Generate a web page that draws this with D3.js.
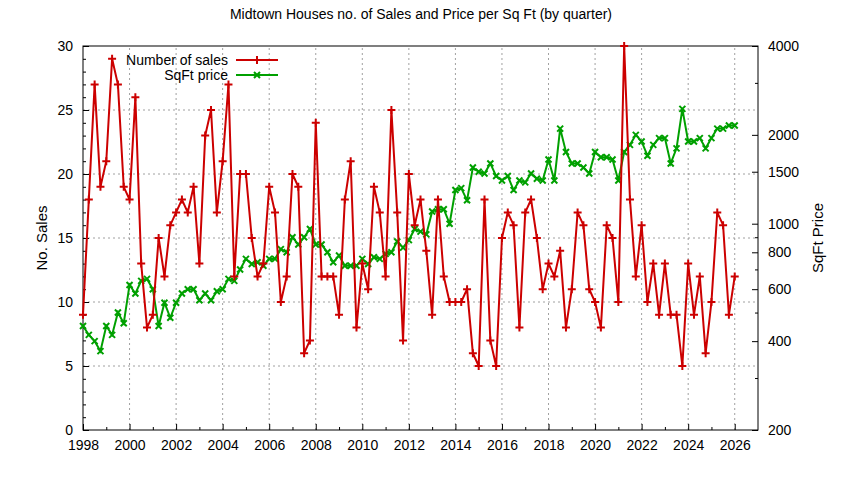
<!DOCTYPE html>
<html><head><meta charset="utf-8">
<script src="https://cdn.jsdelivr.net/npm/d3@7"></script>
<style>body{margin:0;background:#fff}text{font-family:"Liberation Sans",Arial,sans-serif}</style>
</head><body>
<script>
// quarterly data, 1998 Q1 .. 2026 Q1
let sales = [9,18,27,19,21,29,27,19,18,26,
  13,8,9,15,12,16,17,18,17,19,
  13,23,25,17,21,27,12,20,20,15,
  12,13,19,17,10,12,20,19,6,7,
  24,12,12,12,9,18,21,8,13,11,19,
  17,12,25,17,7,20,16,18,14,9,
  18,12,10,10,10,11,6,5,18,7,
  5,15,17,16,8,17,18,15,11,13,
  12,14,8,11,17,16,11,10,8,16,
  15,10,30,18,12,16,10,13,9,13,
  9,9,5,13,9,12,6,10,17,16,9,12];
let price = [450,420,400,370,450,420,500,460,620,580,
  640,650,600,450,540,480,540,580,600,600,
  550,580,550,590,600,650,640,700,760,730,
  740,720,760,760,820,800,900,850,900,960,
  850,850,800,740,780,720,720,720,760,730,
  770,760,790,800,870,830,880,960,940,920,
  1100,1120,1120,1000,1300,1320,1200,1550,1500,1480,
  1600,1450,1400,1450,1300,1400,1380,1480,1420,1400,1650,1400,
  2100,1750,1600,1600,1550,1480,1750,1680,1680,1650,
  1400,1750,1850,2000,1900,1700,1850,1950,1950,1600,
  1800,2450,1900,1900,1950,1800,1950,2100,2100,2150,2150];
let xTicks = d3.range(1998, 2027, 2);
let leftTicks = [0,5,10,15,20,25,30];
let rightTicks = [200,400,600,800,1000,1500,2000,4000];

let W = 844, H = 480;
let margin = {top: 46, right: 86, bottom: 50, left: 83};
let svg = d3.select("body").append("svg").attr("width", W).attr("height", H);
let x = d3.scaleLinear().domain([1998, 2027]).range([margin.left, W - margin.right]);
let y = d3.scaleLinear().domain([0, 30]).range([H - margin.bottom, margin.top]);
let y2 = d3.scaleLog().domain([200, 4000]).range([H - margin.bottom, margin.top]);
let t = i => 1998 + i * 0.25;

// grid
let grid = svg.append("g").attr("stroke", "#a0a0a0").attr("stroke-dasharray", "2,3").attr("stroke-width", 1);
grid.selectAll(".gx").data(xTicks.slice(1)).join("line")
  .attr("x1", d => x(d)).attr("x2", d => x(d)).attr("y1", y(0)).attr("y2", y(30));
grid.selectAll(".gy").data(leftTicks.slice(1, -1)).join("line")
  .attr("x1", x(1998)).attr("x2", x(2027)).attr("y1", d => y(d)).attr("y2", d => y(d));

// axes
let fs = "14px";
let ax = svg.append("g").attr("transform", `translate(0,${y(0)})`)
  .call(d3.axisBottom(x).tickValues(xTicks).tickFormat(d3.format("d")).tickSizeInner(-6).tickSizeOuter(0).tickPadding(10));
ax.append("g").call(d3.axisTop(x).tickValues(d3.range(1999, 2027, 2)).tickFormat("").tickSizeInner(3).tickSizeOuter(0));
let al = svg.append("g").attr("transform", `translate(${x(1998)},0)`)
  .call(d3.axisLeft(y).tickValues(leftTicks).tickSizeInner(-6).tickSizeOuter(0).tickPadding(10));
svg.append("g").attr("transform", `translate(${x(1998)},0)`)
  .call(d3.axisRight(y).tickValues(d3.range(1, 30)).tickFormat("").tickSizeInner(3).tickSizeOuter(0));
let ar = svg.append("g").attr("transform", `translate(${x(2027)},0)`)
  .call(d3.axisRight(y2).tickValues(rightTicks).tickFormat(d3.format("d")).tickSizeInner(-6).tickSizeOuter(0).tickPadding(10));
svg.append("g").attr("transform", `translate(${x(2027)},0)`)
  .call(d3.axisLeft(y2).tickValues([300,500,700,900,3000]).tickFormat("").tickSizeInner(3).tickSizeOuter(0));
svg.selectAll(".domain").remove();
svg.selectAll(".tick text").attr("font-size", fs).attr("fill", "#000");
svg.append("rect").attr("x", x(1998)).attr("y", y(30)).attr("width", x(2027) - x(1998)).attr("height", y(0) - y(30))
  .attr("fill", "none").attr("stroke", "#000");

// titles
svg.append("text").attr("x", W / 2 - 1).attr("y", 19).attr("text-anchor", "middle").attr("font-size", fs)
  .text("Midtown Houses no. of Sales and Price per Sq Ft (by quarter)");
svg.append("text").attr("transform", `translate(47,${(y(0) + y(30)) / 2}) rotate(-90)`).attr("text-anchor", "middle")
  .attr("font-size", "15px").text("No. Sales");
svg.append("text").attr("transform", `translate(823,${(y(0) + y(30)) / 2}) rotate(-90)`).attr("text-anchor", "middle")
  .attr("font-size", "15px").text("SqFt Price");

let red = "#cc0000", green = "#00a000";
let plus = d3.symbol().type(d3.symbolCross).size(0);
function plusPath(s) { return `M${-s},0H${s}M0,${-s}V${s}`; }
function xPath(s) { return `M${-s},${-s}L${s},${s}M${-s},${s}L${s},${-s}`; }

// price line
svg.append("path").datum(price).attr("fill", "none").attr("stroke", green).attr("stroke-width", 2)
  .attr("d", d3.line().x((d, i) => x(t(i))).y(d => y2(d)));
svg.append("g").selectAll("path").data(price).join("path")
  .attr("transform", (d, i) => `translate(${x(t(i))},${y2(d)})`).attr("d", xPath(3))
  .attr("stroke", green).attr("stroke-width", 2);
// sales line
svg.append("path").datum(sales).attr("fill", "none").attr("stroke", red).attr("stroke-width", 2)
  .attr("d", d3.line().x((d, i) => x(t(i))).y(d => y(d)));
svg.append("g").selectAll("path").data(sales).join("path")
  .attr("transform", (d, i) => `translate(${x(t(i))},${y(d)})`).attr("d", plusPath(4))
  .attr("stroke", red).attr("stroke-width", 2);

// legend
let leg = [{name: "Number of sales", c: red, m: plusPath(4)}, {name: "SqFt price", c: green, m: xPath(3)}];
let lg = svg.append("g").selectAll("g").data(leg).join("g")
  .attr("transform", (d, i) => `translate(0,${60 + i * 15})`);
lg.append("text").attr("x", 228).attr("y", 5).attr("text-anchor", "end").attr("font-size", fs).text(d => d.name);
lg.append("line").attr("x1", 236).attr("x2", 278).attr("stroke", d => d.c).attr("stroke-width", 2);
lg.append("path").attr("transform", "translate(257,0)").attr("d", d => d.m).attr("stroke", d => d.c).attr("stroke-width", 2);
</script>
</body></html>
